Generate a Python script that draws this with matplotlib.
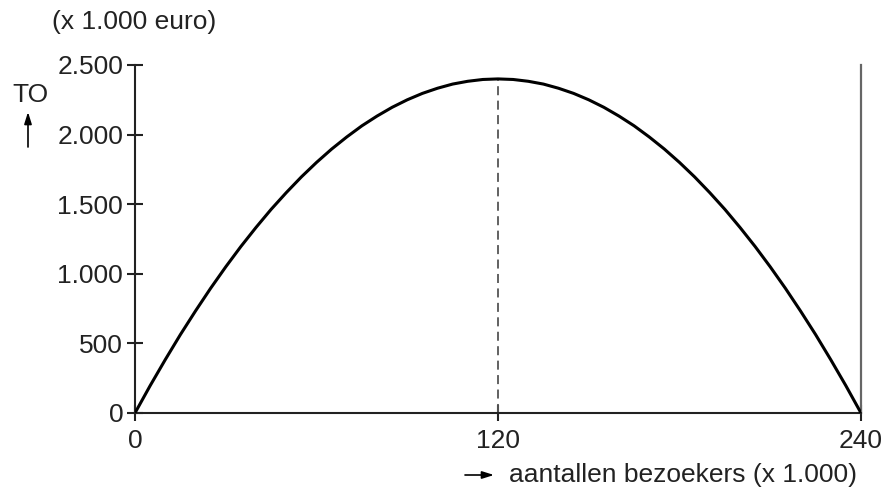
import matplotlib
matplotlib.use("Agg")
import matplotlib.pyplot as plt

plt.rcParams['font.family'] = ['Liberation Sans', 'DejaVu Sans']

# data (x 1.000 bezoekers, TO x 1.000 euro)
visitors = [0, 5, 10, 15, 20, 25, 30, 35, 40, 45, 50, 55, 60, 65, 70, 75, 80, 85, 90, 95,
            100, 105, 110, 115, 120, 125, 130, 135, 140, 145, 150, 155, 160, 165, 170,
            175, 180, 185, 190, 195, 200, 205, 210, 215, 220, 225, 230, 235, 240]
turnover = [0, 196, 383, 563, 733, 896, 1050, 1196, 1333, 1463, 1583, 1696, 1800, 1896,
            1983, 2063, 2133, 2196, 2250, 2296, 2333, 2363, 2383, 2396, 2400, 2396, 2383,
            2363, 2333, 2296, 2250, 2196, 2133, 2063, 1983, 1896, 1800, 1696, 1583, 1463,
            1333, 1196, 1050, 896, 733, 563, 383, 196, 0]
x_ticks = [0, 120, 240]
x_tick_labels = ["0", "120", "240"]
y_ticks = [0, 500, 1000, 1500, 2000, 2500]
y_tick_labels = ["0", "500", "1.000", "1.500", "2.000", "2.500"]
peak_x = 120
peak_y = 2400
max_x = 240
y_max = 2500

FS = 19
fig = plt.figure(figsize=(8.84, 4.87), dpi=100)
ax = fig.add_axes([135/884, 74/487, (861-135)/884, (413-65)/487])
ax.plot(visitors, turnover, color='black', lw=2.2, solid_joinstyle='round',
        solid_capstyle='round', zorder=3)
ax.plot([peak_x, peak_x], [0, peak_y], color='#555555', lw=1.3, ls=(0, (5, 3)), zorder=2)
ax.plot([max_x, max_x], [0, y_max], color='#666666', lw=1.6, zorder=2, clip_on=False)

ax.set_xlim(0, max_x)
ax.set_ylim(0, y_max)
ax.set_xticks(x_ticks)
ax.set_xticklabels(x_tick_labels)
ax.set_yticks(y_ticks)
ax.set_yticklabels(y_tick_labels)
for s in ['top', 'right']:
    ax.spines[s].set_visible(False)
for s in ['left', 'bottom']:
    ax.spines[s].set_linewidth(1.5)
    ax.spines[s].set_color('#222222')
ax.tick_params(axis='both', direction='inout', length=11, width=1.5, color='#222222',
               labelsize=FS, labelcolor='#222222')
ax.tick_params(axis='x', pad=6)
ax.tick_params(axis='y', pad=3)

fig.text(52/884, 1 - 22/487, "(x 1.000 euro)", fontsize=FS, color='#222222', va='center', ha='left')
fig.text(12/884, 1 - 95/487, "TO", fontsize=FS, color='#222222', va='center', ha='left')
fig.add_artist(matplotlib.patches.FancyArrowPatch((28/884, 1 - 147/487), (28/884, 1 - 112/487),
               transform=fig.transFigure, arrowstyle='-|>,head_length=7,head_width=2.2',
               color='black', lw=1.2, mutation_scale=1, shrinkA=0, shrinkB=0))
fig.add_artist(matplotlib.patches.FancyArrowPatch((465/884, 1 - 475/487), (494/884, 1 - 475/487),
               transform=fig.transFigure, arrowstyle='-|>,head_length=7,head_width=2.2',
               color='black', lw=1.2, mutation_scale=1, shrinkA=0, shrinkB=0))
fig.text(509/884, 1 - 475/487, "aantallen bezoekers (x 1.000)", fontsize=FS, color='#222222',
         va='center', ha='left')

fig.savefig("out.png", dpi=100)
